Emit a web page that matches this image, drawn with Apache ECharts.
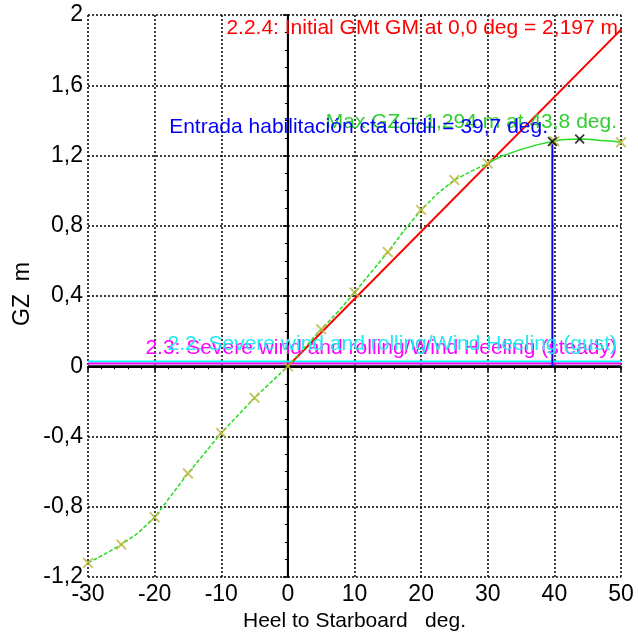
<!DOCTYPE html>
<html><head><meta charset="utf-8">
<script src="https://cdn.jsdelivr.net/npm/echarts@6/dist/echarts.min.js"></script>
<style>html,body{margin:0;padding:0;background:#fff}#c{width:638px;height:632px}</style>
</head><body><div id="c"></div>
<script>
// GZ curve (heel deg, GZ m)
const curveHeel = [-30,-27.5,-25,-22.5,-20,-17.5,-15,-12.5,-10,-7.5,-5,-2.5,0,2.5,5,7.5,10,12.5,15,17.5,20,22.5,25,27.5,30];
const curveGz   = [-1.12,-1.07,-1.015,-0.95,-0.86,-0.735,-0.61,-0.495,-0.38,-0.28,-0.18,-0.09,0,0.105,0.21,0.31,0.42,0.535,0.65,0.775,0.89,0.985,1.06,1.11,1.155];
const curveHeel2 = [30,32,35,37.5,39.7,41,43.8,45,47,48.5,50];
const curveGz2   = [1.155,1.195,1.235,1.262,1.28,1.29,1.294,1.292,1.285,1.283,1.275];
// station crosses
const crossHeel = [-30,-25,-20,-15,-10,-5,0,5,10,15,20,25,30,40,50];
const crossGz   = [-1.12,-1.015,-0.86,-0.61,-0.38,-0.18,0,0.21,0.42,0.65,0.89,1.06,1.155,1.281,1.275];
// special points
const blackHeel = [39.7,43.8];
const blackGz   = [1.28,1.294];
// initial GM line
const gmHeel = [0,57.3];
const gmGz   = [0,2.197];
// heeling levers
const gustLever = 0.027;
const steadyLever = 0.015;
const downfloodAngle = 39.7;
// axes
const xMin=-30, xMax=50, xStep=10;
const yMin=-1.2, yMax=2, yStep=0.4;
const texts = {
  gm: "2.2.4: Initial GMt GM at 0,0 deg = 2,197 m",
  maxgz: "Max GZ = 1,294 m at 43,8 deg.",
  entry: "Entrada habilitación cta toldil = 39,7 deg.",
  gust: "2.2: Severe wind and rolling/Wind Heeling (gust)",
  steady: "2.3: Severe wind and rolling/Wind Heeling (steady)",
  xName: "Heel to Starboard   deg.",
  yName: "GZ  m"
};

const FONT = "'Liberation Sans', Arial, sans-serif";
const X = 'path://M0,1.2L1.2,0L5,3.8L8.8,0L10,1.2L6.2,5L10,8.8L8.8,10L5,6.2L1.2,10L0,8.8L3.8,5Z';
const zip = (a,b)=>a.map((v,i)=>[v,b[i]]);

const chart = echarts.init(document.getElementById('c'));
const dots = {color:'#000', width:1.5, type:[2,2]};
chart.setOption({
  animation:false,
  grid:{left:88, right:17, top:15, bottom:55, containLabel:false, outerBoundsMode:'none'},
  xAxis:{type:'value', min:xMin, max:xMax, interval:xStep,
    name:texts.xName, nameLocation:'middle', nameGap:32,
    nameTextStyle:{fontFamily:FONT, fontSize:21, color:'#000'},
    axisLine:{lineStyle:{color:'#000', width:2}},
    axisTick:{show:true, length:5, lineStyle:{color:'#000', width:1.5}},
    minorTick:{show:true, splitNumber:5, length:3, lineStyle:{color:'#000'}},
    axisLabel:{fontFamily:FONT, fontSize:23, color:'#000', margin:6},
    splitLine:{show:true, lineStyle:dots}},
  yAxis:{type:'value', min:yMin, max:yMax, interval:yStep,
    axisLine:{show:true, lineStyle:{color:'#000', width:2}},
    axisTick:{show:true, length:5, lineStyle:{color:'#000', width:1.5}},
    minorTick:{show:true, splitNumber:4, length:3, lineStyle:{color:'#000'}},
    axisLabel:{fontFamily:FONT, fontSize:23, color:'#000', margin:5,
      formatter:v=>{const r=Math.round(v*10)/10; return r===0?'0':String(r).replace('.',',');}},
    splitLine:{show:true, lineStyle:dots}},
  series:[
    {type:'line', data:[[0,yMin],[0,yMax]], symbol:'none', lineStyle:{color:'#000', width:2}, z:3},
    {type:'line', data:[[xMin,0],[xMax,0]], symbol:'none', lineStyle:{color:'#000', width:2}, z:3},
    {type:'line', data:[[xMin,gustLever],[xMax,gustLever]], symbol:'none', lineStyle:{color:'#00ffff', width:2}, z:4},
    {type:'line', data:[[xMin,steadyLever],[xMax,steadyLever]], symbol:'none', lineStyle:{color:'#ff00ff', width:2}, z:4},
    {type:'line', data:zip(gmHeel,gmGz), symbol:'none', clip:true, lineStyle:{color:'#ff0000', width:2}, z:5},
    {type:'line', data:zip(curveHeel,curveGz), symbol:'none', lineStyle:{color:'#22dd22', width:1.5, type:[4,2]}, z:6},
    {type:'line', data:zip(curveHeel2,curveGz2), symbol:'none', lineStyle:{color:'#22dd22', width:1.5}, z:6},
    {type:'line', data:[[downfloodAngle,0],[downfloodAngle,blackGz[0]]], symbol:'none', lineStyle:{color:'#0000ff', width:2}, z:7},
    {type:'scatter', data:zip(crossHeel,crossGz), symbol:X, symbolSize:11, itemStyle:{color:'#bdb43c'}, z:8},
    {type:'scatter', data:zip(blackHeel,blackGz), symbol:X, symbolSize:10, itemStyle:{color:'#000'}, z:9}
  ],
  graphic:[
    {type:'text', right:20, top:18, z:20, style:{text:texts.gm, font:`21px ${FONT}`, fill:'#ff0000'}},
    {type:'text', right:21, top:112, z:20, style:{text:texts.maxgz, font:`21px ${FONT}`, fill:'#33cc33'}},
    {type:'text', right:90, top:117, z:21, style:{text:texts.entry, font:`21px ${FONT}`, fill:'#0000ff'}},
    {type:'text', right:21, top:338, z:21, style:{text:texts.steady, font:`21px ${FONT}`, fill:'#ff00ff'}},
    {type:'text', right:21, top:334, z:22, style:{text:texts.gust, font:`21px ${FONT}`, fill:'#22e8f0'}},
    {type:'text', left:11, top:262, z:20, rotation:Math.PI/2, style:{text:texts.yName, font:`23px ${FONT}`, fill:'#000'}}
  ]
});
</script></body></html>
